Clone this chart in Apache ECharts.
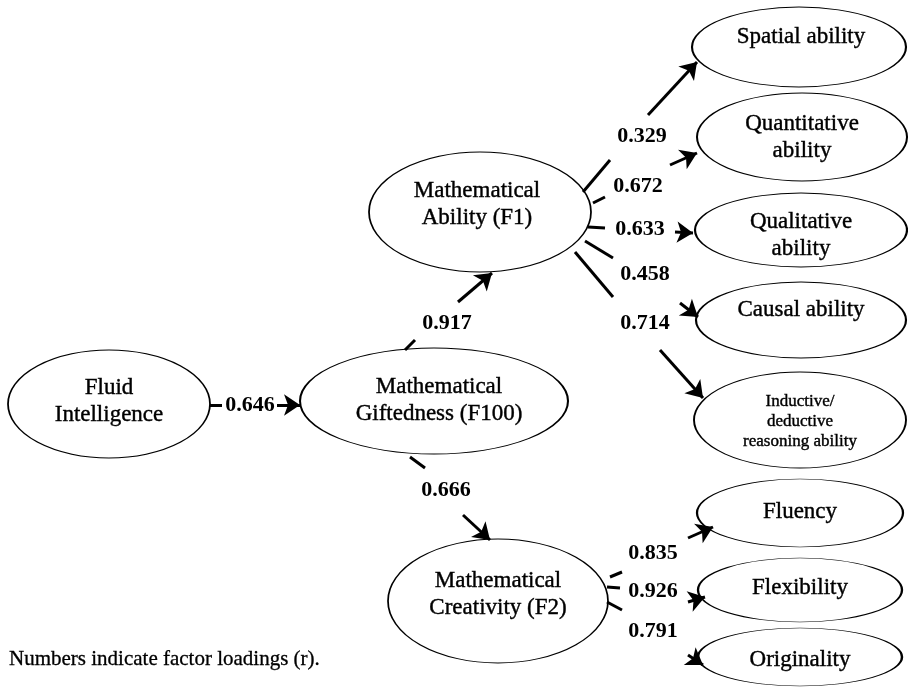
<!DOCTYPE html>
<html>
<head>
<meta charset="utf-8">
<script src="https://cdn.jsdelivr.net/npm/echarts@6/dist/echarts.min.js"></script>
<style>html,body{margin:0;padding:0;background:#fff}#c{width:908px;height:688px}</style>
</head>
<body>
<div id="c"></div>
<script>
// ---- content ----
const nodeLabels = ['Fluid\nIntelligence', 'Mathematical\nGiftedness (F100)', 'Mathematical\nAbility (F1)',
  'Mathematical\nCreativity (F2)', 'Spatial ability', 'Quantitative\nability', 'Qualitative\nability',
  'Causal ability', 'Inductive/\ndeductive\nreasoning ability', 'Fluency', 'Flexibility', 'Originality'];
const edgeSource = [0, 1, 1, 2, 2, 2, 2, 2, 3, 3, 3];
const edgeTarget = [1, 2, 3, 4, 5, 6, 7, 8, 9, 10, 11];
const loadings = [0.646, 0.917, 0.666, 0.329, 0.672, 0.633, 0.458, 0.714, 0.835, 0.926, 0.791];
const footnote = 'Numbers indicate factor loadings (r).';

// ---- layout (diagram geometry, axis units = px) ----
const nodeCenter = [[109,404],[434,401],[480,212],[498,601],[799,47],[802,137],[801,230],[801,320],[800,420],[800,513],[800,590],[800,657]];
const nodeRadii = [[101,54],[134,53],[111,60],[110,62],[107,40],[105,44],[106,37],[105,38],[106,48],[103,34],[102,32],[102,29]];
const nodeTextOffset = [[0,-3],[5,-1],[-3,-8],[0,-7],[2,-10],[0,0],[0,5],[0,-10],[0,2],[0,-1],[0,-2],[0,3]];
const nodeFontSize = [23,23,23,23,23,23,23,23,17,23,23,23];
// each edge: start, gap start, gap end, end
const edgePath = [
  [[210,405],[222,405],[277,405],[300,405]],
  [[405,350],[415,340],[458,302],[492,273]],
  [[410,457],[425,468],[463,515],[490,540]],
  [[583,192],[610,160],[648,115],[697,62]],
  [[593,203],[605,197],[670,165],[697,153]],
  [[588,227],[605,228],[675,232],[693,233]],
  [[585,241],[613,258],[680,303],[698,317]],
  [[575,252],[613,297],[660,350],[703,398]],
  [[610,577],[622,572],[688,538],[713,527]],
  [[607,587],[620,588],[688,602],[705,597]],
  [[607,602],[622,610],[688,655],[703,665]]
];
const edgeLabelPos = [[250,405],[447,323],[446,490],[642,136],[638,186],[640,229],[645,274],[645,323],[653,553],[653,591],[653,631]];

const FONT = '"Liberation Serif", "Times New Roman", serif';
const ELLIPSE = 'path://M0,50 A50,50 0 1,1 100,50 A50,50 0 1,1 0,50 Z';

const nodeData = nodeLabels.map((name, i) => ({
  name: name,
  value: nodeCenter[i],
  symbolSize: [nodeRadii[i][0] * 2, nodeRadii[i][1] * 2],
  label: {
    offset: nodeTextOffset[i],
    fontSize: nodeFontSize[i],
    lineHeight: nodeFontSize[i] === 17 ? 20 : 27
  }
}));

const tailData = edgePath.map(p => ({ coords: [p[0], p[1]] }));
const headData = edgePath.map(p => ({ coords: [p[2], p[3]] }));
const loadData = loadings.map((v, i) => ({ value: edgeLabelPos[i], loading: v, src: edgeSource[i], tgt: edgeTarget[i] }));

const chart = echarts.init(document.getElementById('c'), null, { renderer: 'canvas' });
chart.setOption({
  backgroundColor: '#ffffff',
  animation: false,
  title: {
    text: footnote, left: 9, top: 649, padding: 0,
    textStyle: { fontFamily: FONT, fontSize: 21, fontWeight: 'normal', color: '#000',
      textBorderColor: '#000', textBorderWidth: 0.3 }
  },
  grid: { left: 0, right: 0, top: 0, bottom: 0 },
  xAxis: { type: 'value', min: 0, max: 908, show: false },
  yAxis: { type: 'value', min: 0, max: 688, inverse: true, show: false },
  series: [
    {
      type: 'scatter', symbol: ELLIPSE, z: 2,
      itemStyle: { color: '#fff', borderColor: '#000', borderWidth: 1.3, opacity: 1 },
      label: { show: true, position: 'inside', formatter: p => p.name, color: '#000', fontFamily: FONT,
        textBorderColor: '#000', textBorderWidth: 0.4 },
      emphasis: { disabled: true },
      data: nodeData
    },
    {
      type: 'lines', coordinateSystem: 'cartesian2d', z: 3,
      symbol: ['none', 'none'],
      lineStyle: { color: '#000', width: 3, opacity: 1, curveness: 0 },
      data: tailData
    },
    {
      type: 'lines', coordinateSystem: 'cartesian2d', z: 3,
      symbol: ['none', 'arrow'], symbolSize: 16,
      lineStyle: { color: '#000', width: 3, opacity: 1, curveness: 0 },
      data: headData
    },
    {
      type: 'scatter', symbolSize: 0, z: 4,
      itemStyle: { opacity: 1, color: '#000' },
      label: { show: true, position: 'inside', color: '#000', fontFamily: FONT, fontSize: 22, fontWeight: 'bold',
        formatter: p => p.data.loading.toFixed(3) },
      emphasis: { disabled: true },
      data: loadData
    }
  ]
});
</script>
</body>
</html>
